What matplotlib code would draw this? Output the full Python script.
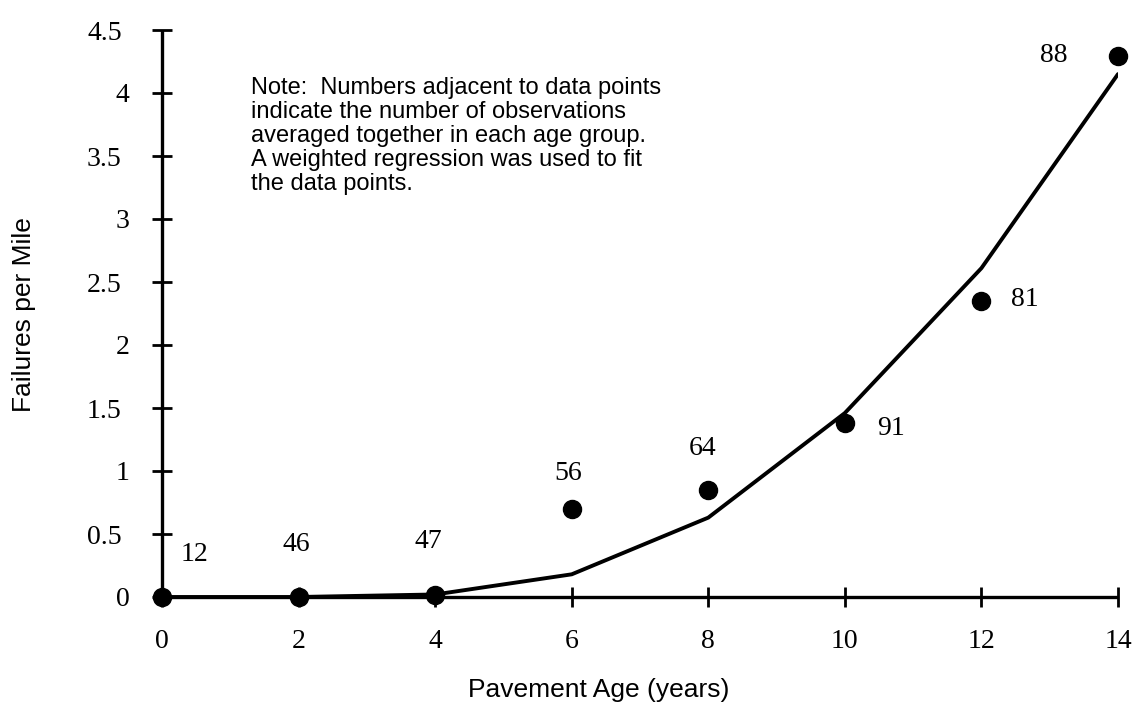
import matplotlib
matplotlib.use("Agg")
import matplotlib.pyplot as plt
from matplotlib.transforms import ScaledTranslation

# Pavement age groups (years) and average failures per mile
age = [0, 2, 4, 6, 8, 10, 12, 14]
failures = [0.0, 0.0, 0.015, 0.70, 0.85, 1.38, 2.35, 4.29]
observations = ["12", "46", "47", "56", "64", "91", "81", "88"]

# Weighted regression fit evaluated at each age
fit_age = [0, 2, 4, 6, 8, 10, 12, 14]
fit_values = [0.0, 0.0, 0.02, 0.18, 0.63, 1.46, 2.61, 4.15]

# Label anchor positions for the observation counts
label_x = [0.47, 1.96, 3.90, 5.95, 7.92, 10.67, 12.64, 13.06]
label_y = [0.34, 0.42, 0.44, 0.98, 1.18, 1.34, 2.36, 4.30]

x_ticks = [0, 2, 4, 6, 8, 10, 12, 14]
y_ticks = [0, 0.5, 1, 1.5, 2, 2.5, 3, 3.5, 4, 4.5]
y_tick_labels = ["0", "0.5", "1", "1.5", "2", "2.5", "3", "3.5", "4", "4.5"]

note = ("Note:  Numbers adjacent to data points\n"
        "indicate the number of observations\n"
        "averaged together in each age group.\n"
        "A weighted regression was used to fit\n"
        "the data points.")

serif = ["Liberation Serif", "DejaVu Serif"]
sans = ["Liberation Sans", "DejaVu Sans"]

fig = plt.figure(figsize=(11.32, 7.03), dpi=100)
ax = fig.add_axes([162 / 1132, 1 - 597 / 703, (1118 - 162) / 1132, (597 - 30) / 703])

ax.plot(fit_age, fit_values, color="black", lw=2.8, solid_capstyle="round",
        solid_joinstyle="miter", zorder=3)
ax.plot(age, failures, "o", color="black", ms=13, clip_on=False, zorder=4)

for lx, ly, txt in zip(label_x, label_y, observations):
    ax.text(lx, ly, txt, ha="center", va="center", fontsize=20, family=serif)

ax.text(1.31, 3.66, note, ha="left", va="center", fontsize=17, family=sans,
        linespacing=1.12)

ax.set_xlim(0, 14)
ax.set_ylim(0, 4.5)
ax.set_xticks(x_ticks)
ax.set_xticklabels([str(v) for v in x_ticks], fontsize=20, family=serif)
ax.set_yticks(y_ticks)
ax.set_yticklabels(y_tick_labels, fontsize=20, family=serif)

for side in ("top", "right"):
    ax.spines[side].set_visible(False)
for side in ("left", "bottom"):
    ax.spines[side].set_linewidth(2.4)
    ax.spines[side].set_capstyle("butt")

ax.tick_params(axis="both", direction="inout", length=14, width=2.0, color="black")
ax.tick_params(axis="x", pad=16)
ax.tick_params(axis="y", pad=22)

# Whole numbers sit a little further right than the decimal labels
shift = ScaledTranslation(8 / 100, 0, fig.dpi_scale_trans)
for lab, txt in zip(ax.get_yticklabels(), y_tick_labels):
    if "." not in txt:
        lab.set_transform(lab.get_transform() + shift)

fig.text(599 / 1132, 1 - 690 / 703, "Pavement Age (years)", ha="center",
         va="center", fontsize=19, family=sans)
fig.text(24 / 1132, 1 - 315 / 703, "Failures per Mile", ha="center",
         va="center", rotation=90, fontsize=19, family=sans)

fig.savefig("out.png", dpi=100)
